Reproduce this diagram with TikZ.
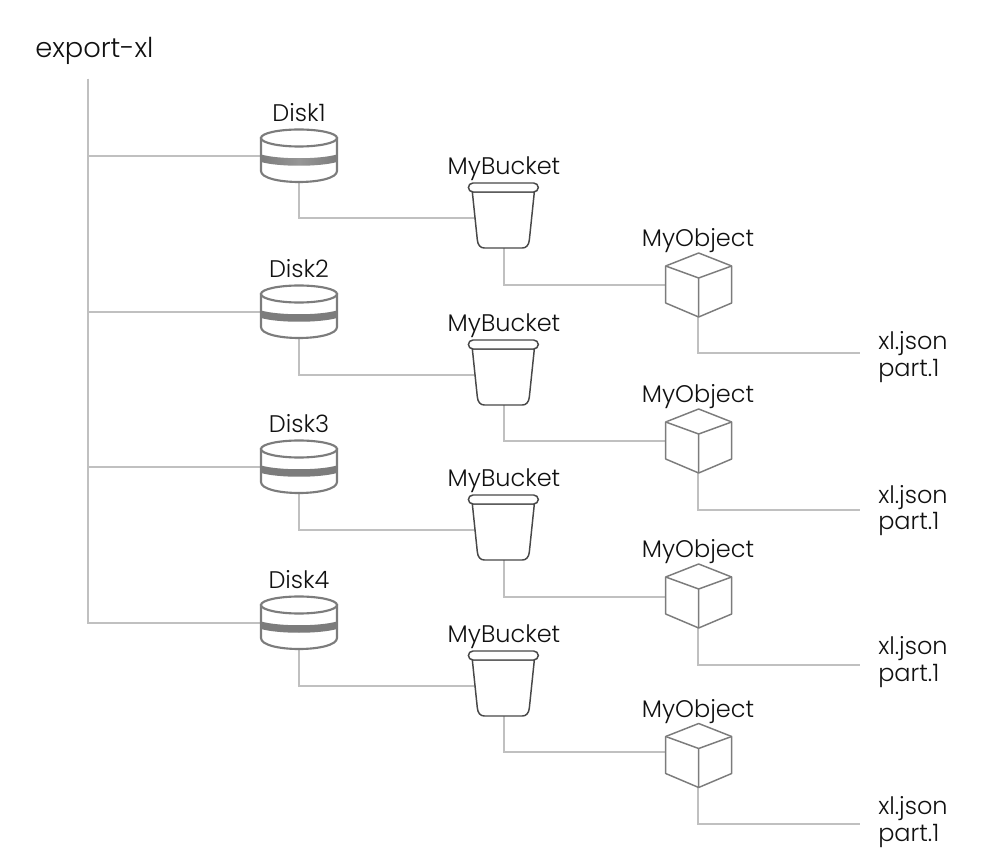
\documentclass[tikz,border=0pt]{standalone}
\usepackage{fontspec}
\setmainfont{Poppins Light}
\usetikzlibrary{calc}
\definecolor{wirecol}{HTML}{C0C0C0}
\definecolor{diskcol}{HTML}{7C7C7C}
\definecolor{bucketcol}{HTML}{484848}
\definecolor{cubecol}{HTML}{7C7C7C}
\definecolor{labelcol}{HTML}{111111}
\tikzset{
  label text/.style={text=labelcol, font=\fontsize{18}{18.5}\selectfont, inner sep=0, text height=13pt, text depth=4pt},
  file text/.style={text=labelcol, font=\fontsize{18}{20}\selectfont, inner sep=0},
  root text/.style={text=labelcol, font=\fontsize{20.5}{22}\selectfont, inner sep=0},
  icon box/.style={inner sep=0, minimum width=2pt, minimum height=2pt},
  wire/.style={wirecol, line width=1.6pt},
  disk line/.style={diskcol, line width=1.6pt, fill=white},
  bucket line/.style={bucketcol, line width=1.1pt, fill=white, line join=round},
  cube line/.style={cubecol, line width=1.1pt, fill=white, line join=round},
  band1/.style={left color=diskcol, right color=diskcol, middle color=diskcol!80},
  band2/.style={fill=diskcol},
  band3/.style={fill=diskcol},
  band4/.style={fill=diskcol}
}
\begin{document}
\begin{tikzpicture}[x=.75pt, y=-.75pt]
\useasboundingbox (0,0) rectangle (1008,866);
\node[root text, anchor=west] (root) at (35,51) {export-xl};
\coordinate (trunk) at (88,79);
% rows: disk y / bucket y / wire into object y / object y / wire end y / text y
\foreach \n/\dy/\by/\iy/\oy/\ey/\ty in {1/156/218/285/285/353/357, 2/312/375/441/441/510/510.5, 3/467/530/597/596/665/662, 4/623/686/752/755.5/824/822} {
 \node[icon box] (disk\n) at (299,\dy) {};
 \node[icon box] (bucket\n) at (504,\by) {};
 \node[icon box] (object\n) at (698,\oy) {};
 \coordinate (inlet\n) at (698,\iy);
 \coordinate (end\n) at (860,\ey);
 \node[file text, anchor=west, align=left] (file\n) at (878,\ty) {xl.json\\part.1};
 \node[label text] (disklabel\n) at ($(disk\n)+(0,-40.5)$) {Disk\n};
 \node[label text] (bucketlabel\n) at ($(bucket\n)+(0,-49.5)$) {MyBucket};
 \node[label text] (objectlabel\n) at ($(object\n)+(0,-44.5)$) {MyObject};
 \draw[wire] (trunk) |- (disk\n.center);
 \draw[wire] (disk\n.center) |- (bucket\n.center);
 \draw[wire] (bucket\n.center) |- (inlet\n);
 \draw[wire] (object\n.center) |- (end\n);
 % disk
 \begin{scope}[shift={(disk\n.center)}]
  \draw[disk line] (-38,-18) -- (-38,15) .. controls (-38,22) and (-20,26) .. (0,26) .. controls (20,26) and (38,22) .. (38,15) -- (38,-18) -- cycle;
  \path[band\n] (-38,-1.5) .. controls (-20,3.5) and (20,3.5) .. (38,-1.5) -- (38,6) .. controls (20,11) and (-20,11) .. (-38,6) -- cycle;
  \draw[disk line] (0,-18) ellipse (38 and 8.5);
 \end{scope}
 % bucket
 \begin{scope}[shift={(bucket\n.center)}, xshift=-.5]
  \draw[bucket line] (-31,-26) -- (-26,22) .. controls (-25.5,27) and (-23,30) .. (-19,30) -- (19,30) .. controls (23,30) and (25.5,27) .. (26,22) -- (31,-26) -- cycle;
  \draw[bucket line, rounded corners=3.5] (-35,-35) rectangle (35,-26);
 \end{scope}
 % object
 \begin{scope}[shift={(object\n.center)}, xshift=.5]
  \draw[cube line] (0,-32) -- (33,-19) -- (33,18) -- (0,32) -- (-33,18) -- (-33,-19) -- cycle;
  \draw[cube line] (-33,-19) -- (0,-7) -- (33,-19) (0,-7) -- (0,32);
 \end{scope}
}
\end{tikzpicture}
\end{document}
